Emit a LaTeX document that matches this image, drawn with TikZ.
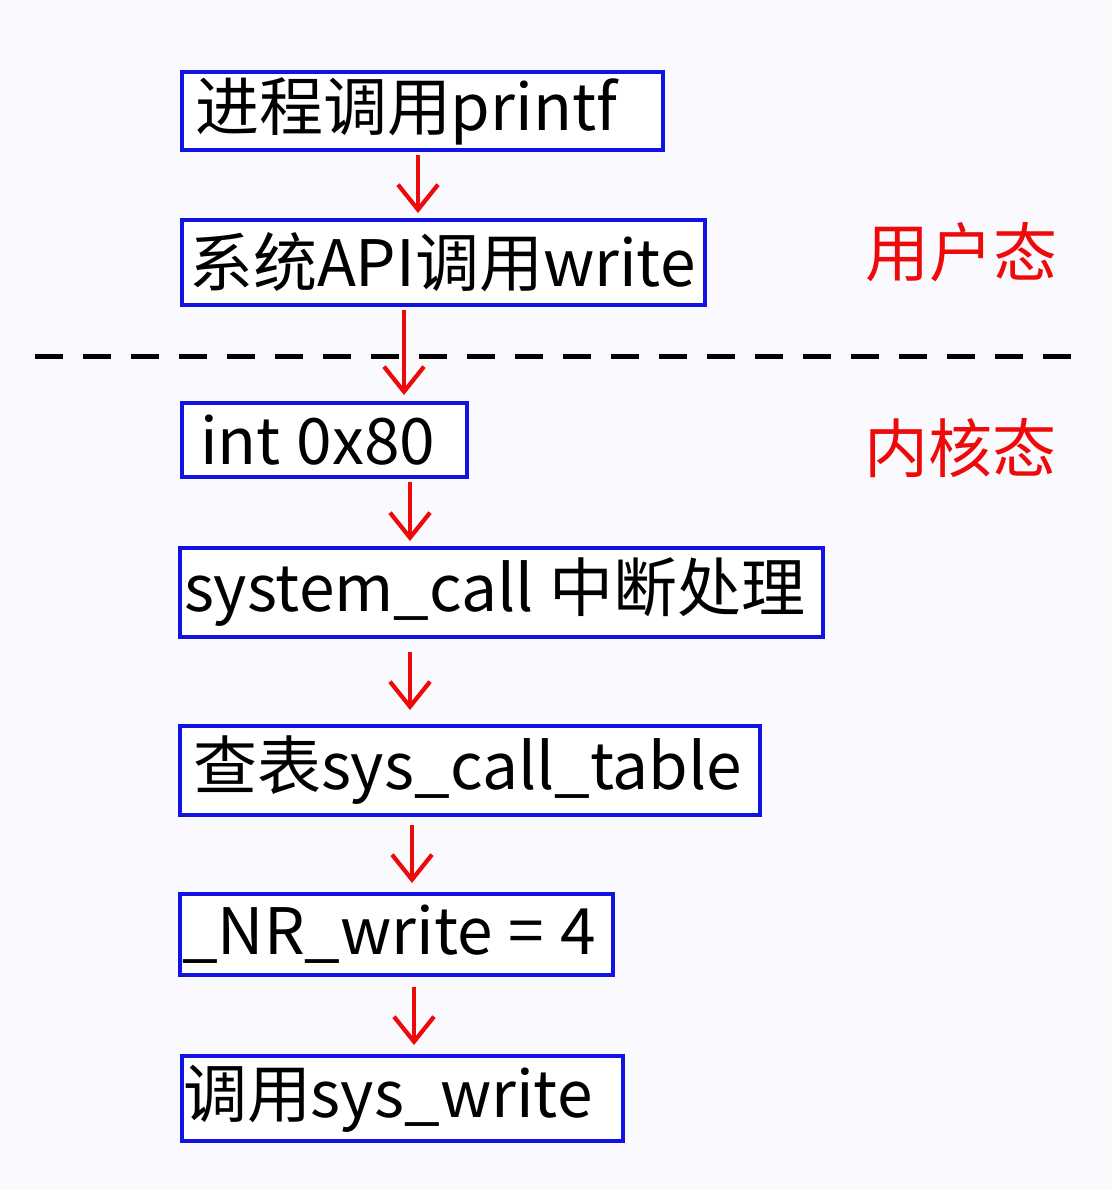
\documentclass[tikz,border=0pt]{standalone}
\usepackage{fontspec}
\setmainfont{Noto Sans CJK SC}
\usepackage{tikz}
\usetikzlibrary{arrows.meta}

\definecolor{boxblue}{RGB}{18,18,228}
\definecolor{arrowred}{RGB}{238,10,10}
\definecolor{bgpaper}{RGB}{250,249,253}
\newcommand{\gap}{\hspace{0.25em}}

\begin{document}
\begin{tikzpicture}[x=0.5pt,y=-0.5pt,
  box/.style={draw=boxblue,line width=2.4pt,fill=white,anchor=north west,outer sep=0pt,inner ysep=0pt,align=left,font=\fontsize{32}{36}\selectfont},
  flow/.style={draw=arrowred,line width=2.1pt,-{Straight Barb[length=12.5pt,width=20pt]}},
  mode/.style={text=arrowred,font=\fontsize{32}{36}\selectfont}]
\fill[bgpaper] (0,0) rectangle (1112,1190);
% user side
\node[box,minimum width=240.5pt,minimum height=39pt,text width=227.5pt,inner xsep=6.5pt] (printf) at (182,72) {进程调用printf};
\node[box,minimum width=261.5pt,minimum height=42.5pt,text width=254.5pt,inner xsep=3.5pt] (api) at (182,220) {系统API调用write};
\draw[line width=2.5pt,dash pattern=on 14pt off 10pt] (35,356) -- (1075,356);
% kernel side
\node[box,minimum width=142.5pt,minimum height=37pt,text width=124.5pt,inner xsep=9pt] (intcall) at (182,403) {int\gap 0x80};
\node[box,minimum width=321.5pt,minimum height=44.5pt,text width=317.5pt,inner xsep=2pt] (syscall) at (180,548) {system\_call\gap 中断处理};
\node[box,minimum width=290pt,minimum height=44.5pt,text width=277pt,inner xsep=6.5pt] (table) at (180,726) {查表sys\_call\_table};
\node[box,minimum width=216.5pt,minimum height=40.5pt,text width=214.5pt,inner xsep=1pt] (nrwrite) at (180,894) {\_NR\_write\gap =\gap 4};
\node[box,minimum width=220.5pt,minimum height=42.5pt,text width=219.5pt,inner xsep=0.5pt] (syswrite) at (182,1056) {调用sys\_write};
\node[mode] (user) at (961,252) {用户态};
\node[mode] (kernel) at (960,448) {内核态};
\draw[flow,shorten <=2.5pt,shorten >=3.5pt] ([xshift=118pt]printf.south west) -- ([xshift=118pt]api.north west);
\draw[flow,shorten <=2.5pt,shorten >=4pt] ([xshift=111pt]api.south west) -- ([xshift=111pt]intcall.north west);
\draw[flow,shorten <=2.5pt,shorten >=3.5pt] ([xshift=114pt]intcall.south west) -- ([xshift=115pt]syscall.north west);
\draw[flow,shorten <=7.5pt,shorten >=8pt] ([xshift=115pt]syscall.south west) -- ([xshift=115pt]table.north west);
\draw[flow,shorten <=5pt,shorten >=5.5pt] ([xshift=116pt]table.south west) -- ([xshift=116pt]nrwrite.north west);
\draw[flow,shorten <=6pt,shorten >=5.5pt] ([xshift=117pt]nrwrite.south west) -- ([xshift=116pt]syswrite.north west);
\end{tikzpicture}
\end{document}
